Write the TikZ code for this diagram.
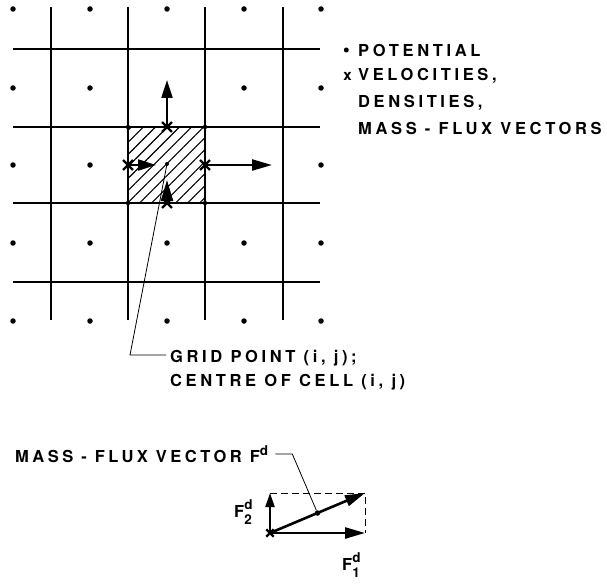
\documentclass[tikz,border=0pt]{standalone}
\usepackage{fontspec}
\setmainfont[LetterSpace=22]{TeX Gyre Heros}
\newfontfamily\tightfont[LetterSpace=21]{TeX Gyre Heros}
\usetikzlibrary{positioning, arrows.meta, patterns.meta, shapes.misc, calc}

% F with stacked super- and subscript
\newcommand{\Fsd}[1]{F\makebox[0pt][l]{\raisebox{7.5pt}{\fontsize{13.5}{13}\selectfont d}}\raisebox{-7pt}{\fontsize{13.5}{13}\selectfont #1}}

\begin{document}
\begin{tikzpicture}[x=1pt, y=-1pt,
    gridline/.style={line width=1.2pt},
    flux/.style={-{Triangle[length=18pt,width=11pt]}, line width=2.2pt},
    pot/.style={circle, fill, inner sep=0pt, minimum size=5.5pt},
    vel/.style={cross out, draw, line width=2.4pt, inner sep=0pt, minimum size=7.5pt},
    lbl/.style={font=\fontsize{16.5}{19}\selectfont\bfseries, inner sep=0pt, anchor=west},
    leader/.style={line width=0.8pt}]
    \useasboundingbox (0,0) rectangle (607,583);

    % grid
    \foreach \y in {49,127,203,282}
        \draw[gridline] (13,\y) -- (320,\y);
    \foreach \x in {51,128,205,283}
        \draw[gridline] (\x,7) -- (\x,320);

    % hatched cell
    \fill[pattern={Lines[angle=45,distance=8.5pt,line width=1.1pt]}] (128,127) rectangle (205,203);
    \draw[line width=1.8pt] (128,127) rectangle (205,203);

    % potential points (those under the arrows left out)
    \foreach \i [count=\c] in {13,90,167,244,321}
        \foreach \j [count=\r] in {9,88,165,243,321}
            {\ifnum\c\r=32 \else \ifnum\c\r=33 \else \ifnum\c\r=43 \else
                \node[pot] (p\c\r) at (\i,\j) {};
            \fi\fi\fi}
    \node[pot, minimum size=4pt] (centre) at (167,164) {};
    \foreach \x/\y [count=\k] in {128/127,205/127,128/203,205/203}
        \node[pot, minimum size=4.5pt] (k\k) at (\x,\y) {};

    % velocities on the cell faces
    \node[vel] (vn) at (167,127) {};
    \node[vel] (vw) at (128,165) {};
    \node[vel] (ve) at (205,165) {};
    \node[vel] (vs) at (167,203) {};
    \coordinate (tn) at (167,80);
    \coordinate (tw) at (156,165);
    \coordinate (te) at (272,165);
    \coordinate (ts) at (167,180);
    \draw[flux] (vn.center) -- (tn);
    \draw[flux] (vw.center) -- (tw);
    \draw[flux, -{Triangle[length=20pt,width=11pt]}] (ve.center) -- (te);
    \draw[flux, -{Triangle[length=21pt,width=12pt]}] (vs.center) -- (ts);

    % legend
    \node[lbl] (lpot) at (358,50) {POTENTIAL};
    \node[lbl] (lvel) [below=26.3pt of lpot.west, anchor=west] {VELOCITIES,};
    \node[lbl] (lden) [below=26.3pt of lvel.west, anchor=west] {DENSITIES,};
    \node[lbl] (lmfv) [below=26.3pt of lden.west, anchor=west] {MASS - FLUX VECTORS};
    \node[pot, minimum size=5pt] (bpot) [left=9pt of lpot.west] {};
    \node[font=\fontsize{15}{15}\selectfont\bfseries, inner sep=0pt] (xvel) [left=6pt of lvel.west] {x};

    % grid point label
    \node[lbl] (gp) at (170,358) {GRID POINT (i, j);};
    \node[lbl] (cc) [below=24.5pt of gp.west, anchor=west] {CENTRE OF CELL (i, j)};
    \coordinate (gbend) at (130,355);
    \draw[leader] (centre) -- (gbend) -- ([xshift=-4pt]gp.west |- gbend);

    % mass-flux vector
    \coordinate (O) at (270,533);
    \coordinate (F1) at (365,533);
    \coordinate (F2) at (270,493);
    \coordinate (F) at (365,493);
    \draw[leader, line width=1pt, dash pattern=on 7pt off 4pt] (F2) -- (F) -- (F1);
    \draw[flux, line width=2.6pt, -{Triangle[length=20pt,width=11pt]}] (O) -- (F1);
    \draw[flux, -{Triangle[length=14pt,width=9pt]}] (O) -- (F2);
    \draw[flux, line width=2.6pt, -{Triangle[length=20pt,width=11pt]}] (O) -- (F);
    \node[vel, minimum size=5pt] (ox) at (O) {};
    \node[pot] (fmid) at ($(O)!0.5!(F)$) {};
    \node[lbl, font=\fontsize{16.5}{19}\selectfont\tightfont\bfseries] (mfv) at (15,454) {MASS - FLUX VECTOR F\raisebox{7.5pt}{\fontsize{13.5}{13}\selectfont d}};
    \draw[leader] ([xshift=7pt]mfv.east) -- ++(17,0) coordinate (mbend) -- (fmid);
    \node[lbl] (lf2) at (234,512) {\Fsd{2}};
    \node[lbl] (lf1) at (342,565) {\Fsd{1}};
\end{tikzpicture}
\end{document}
